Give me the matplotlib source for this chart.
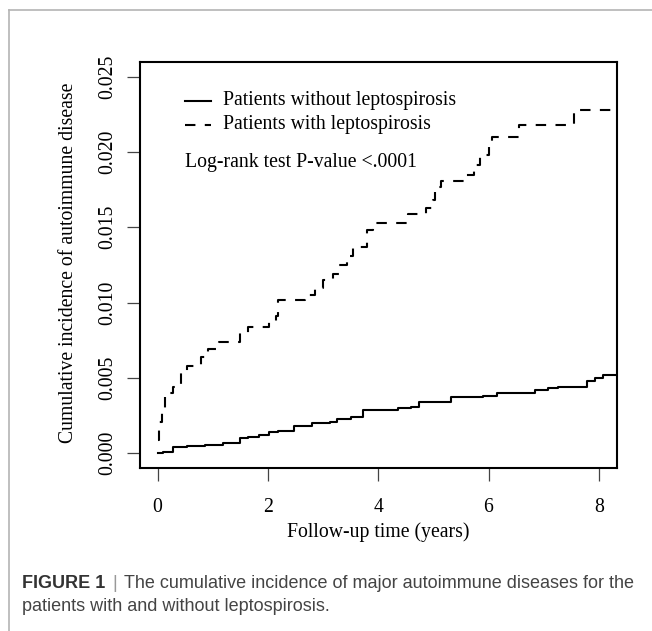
import matplotlib
matplotlib.use('Agg')

import matplotlib.pyplot as plt
from matplotlib.lines import Line2D

# ==========================
# Dados
# ==========================
lepto_t = [0.0, 0.03, 0.08, 0.14, 0.27, 0.43, 0.53, 0.79, 0.92, 1.11, 1.50,
           1.63, 2.02, 2.15, 2.18, 2.67, 2.86, 2.99, 3.18, 3.28, 3.44, 3.54,
           3.80, 3.90, 4.54, 4.87, 5.00, 5.03, 5.13, 5.58, 5.74, 5.84, 6.00,
           6.06, 6.55, 7.55, 8.33]
lepto_v = [0.0009, 0.0021, 0.0030, 0.0040, 0.0044, 0.0053, 0.0058, 0.0064,
           0.0069, 0.0074, 0.0080, 0.0084, 0.0087, 0.0091, 0.0102, 0.0105,
           0.0110, 0.0115, 0.0119, 0.0125, 0.0131, 0.0137, 0.0148, 0.0153,
           0.0159, 0.0163, 0.0168, 0.0177, 0.0181, 0.0185, 0.0191, 0.0198,
           0.0206, 0.0210, 0.0218, 0.0228, 0.0228]

non_t = [0.0, 0.09, 0.27, 0.53, 0.85, 1.18, 1.50, 1.63, 1.83, 2.02, 2.18,
         2.47, 2.80, 3.12, 3.25, 3.51, 3.73, 4.35, 4.60, 4.74, 5.32, 5.90,
         6.16, 6.84, 7.07, 7.26, 7.78, 7.94, 8.07, 8.33]
non_v = [0.0000, 0.0001, 0.0004, 0.0005, 0.00055, 0.00066, 0.0010, 0.0011,
         0.0012, 0.0014, 0.0015, 0.0018, 0.0020, 0.0021, 0.0023, 0.0024,
         0.0029, 0.0030, 0.0031, 0.0034, 0.0037, 0.0038, 0.0040, 0.0042,
         0.0043, 0.0044, 0.0048, 0.0050, 0.0052, 0.0052]

x_ticks = [0, 2, 4, 6, 8]
y_ticks = [0.000, 0.005, 0.010, 0.015, 0.020, 0.025]
y_tick_labels = ["0.000", "0.005", "0.010", "0.015", "0.020", "0.025"]

legend_labels = ["Patients without leptospirosis", "Patients with leptospirosis"]
pvalue_text = "Log-rank test P-value <.0001"

W, H = 652, 631
serif = "Liberation Serif"
sans = "Liberation Sans"
fs = 14.2


def fx(x):
    return x / W


def fy(y):
    return 1 - y / H


fig = plt.figure(figsize=(W / 100, H / 100), dpi=100)
ax = fig.add_axes([fx(140), fy(468), fx(617) - fx(140), fy(62) - fy(468)])

ax.step(non_t, non_v, where='post', color='black', lw=1.5)
ax.step(lepto_t, lepto_v, where='post', color='black', lw=1.5,
        linestyle=(0, (5, 4.5)))

ax.set_xlim(-0.32, 8.33)
ax.set_ylim(-0.00098, 0.02597)

ax.set_xticks(x_ticks)
ax.set_xticklabels([str(v) for v in x_ticks], fontfamily=serif, fontsize=fs)
ax.set_yticks(y_ticks)
ax.set_yticklabels(y_tick_labels, fontfamily=serif, fontsize=fs,
                   rotation=90, va='center')
ax.tick_params(axis='both', direction='out', length=9.5, width=0.9,
               color='#444444')
ax.tick_params(axis='x', pad=12)
ax.tick_params(axis='y', pad=7)

for s in ax.spines.values():
    s.set_linewidth(1.5)
    s.set_color('black')

ax.set_xlabel("Follow-up time (years)", fontfamily=serif, fontsize=fs,
              labelpad=4)
fig.text(fx(69), fy(263), "Cumulative incidence of autoimmune disease",
         fontfamily=serif, fontsize=fs, rotation=90, ha='center',
         va='center')

# legenda manual (sem caixa), como no R
leg_x0, leg_x1, leg_tx = 0.49, 0.97, 1.18
leg_y = [0.02341, 0.0218]
ax.plot([leg_x0, leg_x1], [leg_y[0], leg_y[0]], color='black', lw=1.5)
ax.plot([leg_x0, leg_x1], [leg_y[1], leg_y[1]], color='black', lw=1.5,
        linestyle=(0, (5, 4.5)))
for yv, lab in zip(leg_y, legend_labels):
    ax.text(leg_tx, yv, lab, fontfamily=serif, fontsize=fs, va='center')
ax.text(leg_x0, 0.01928, pvalue_text, fontfamily=serif, fontsize=fs,
        va='center')

# moldura cinza da figura
fig.add_artist(Line2D([fx(9), fx(9)], [fy(10), 0], color='#b4b4b4', lw=1.2))
fig.add_artist(Line2D([fx(9), 1], [fy(10), fy(10)], color='#b4b4b4', lw=1.2))

# legenda da figura
renderer = fig.canvas.get_renderer()
cap_size = 13.0
t1 = fig.text(fx(22), fy(588), "FIGURE 1", fontfamily=sans,
              fontweight='bold', fontsize=cap_size, color='#333333')
w1 = t1.get_window_extent(renderer).width
t2 = fig.text(fx(22 + w1 + 7), fy(588), "|", fontfamily=sans,
              fontsize=cap_size, color='#999999')
w2 = t2.get_window_extent(renderer).width
fig.text(fx(22 + w1 + w2 + 14), fy(588),
         "The cumulative incidence of major autoimmune diseases for the",
         fontfamily=sans, fontsize=cap_size, color='#444444')
fig.text(fx(22), fy(611), "patients with and without leptospirosis.",
         fontfamily=sans, fontsize=cap_size, color='#444444')

fig.savefig("out.png", dpi=100)
plt.close(fig)
